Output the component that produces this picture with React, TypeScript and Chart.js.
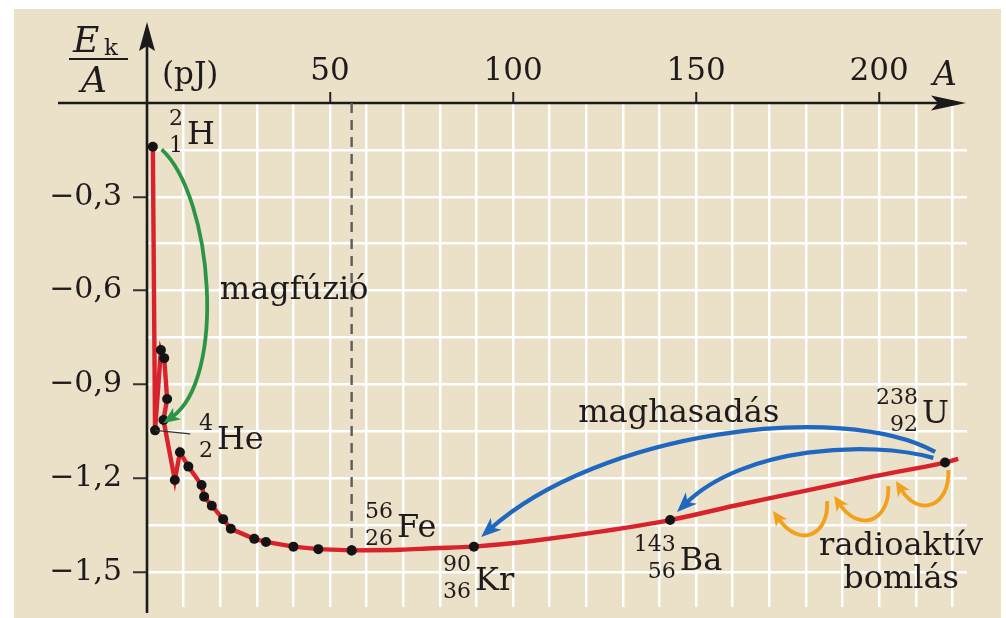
import React, { useEffect, useRef } from 'react';
import { Chart, registerables } from 'chart.js';

Chart.register(...registerables);

// ---- data ----
// light nuclei (plotted in drawing order): mass number A and Ek/A in pJ
const lightA = [1.6, 2.2, 3.8, 4.7, 5.5, 4.5, 7.6, 9.0, 11.3, 14.9, 15.6, 17.7, 20.8, 22.9, 29.3, 32.5, 40.0, 46.8, 55.9];
const lightE = [-0.14, -1.047, -0.79, -0.816, -0.947, -1.014, -1.206, -1.117, -1.163, -1.222, -1.259, -1.288, -1.331, -1.362, -1.394, -1.404, -1.419, -1.427, -1.431];
// heavy branch of the curve (Fe ... U)
const heavyA = [55.9, 69.1, 78.1, 89.3, 105.5, 123.8, 142.9, 160.1, 178.4, 196.6, 218.0, 221.6];
const heavyE = [-1.431, -1.429, -1.424, -1.419, -1.4, -1.371, -1.334, -1.289, -1.244, -1.199, -1.15, -1.138];
const heavyMarked = [true, false, false, true, false, false, true, false, false, false, true, false];

// axes
const xGridValues = [10, 20, 30, 40, 50, 60, 70, 80, 90, 100, 110, 120, 130, 140, 150, 160, 170, 180, 190, 200, 210, 220];
const xLabelValues = [50, 100, 150, 200];
const yGridValues = [-1.5, -1.35, -1.2, -1.05, -0.9, -0.75, -0.6, -0.45, -0.3, -0.15];
const yLabelValues = [-1.5, -1.2, -0.9, -0.6, -0.3];

// nuclide labels: symbol, mass number, atomic number, anchor (A, E)
const nuclideSym = ['H', 'He', 'Fe', 'Kr', 'Ba', 'U'];
const nuclideMass = ['2', '4', '56', '90', '143', '238'];
const nuclideZ = ['1', '2', '26', '36', '56', '92'];
const nuclideA = [10.9, 19.1, 68.3, 89.6, 145.5, 211.7];
const nuclideE = [-0.131, -1.106, -1.388, -1.557, -1.493, -1.023];

// arrows: cubic bezier control points in (A, E)
const fusionArrow = [[4.0, -0.148], [18.0, -0.3], [19.6, -0.9], [4.45, -1.024]];
const fissionArrows = [
  [[215.3, -1.116], [189.3, -0.95], [121.0, -1.078], [91.3, -1.388]],
  [[214.8, -1.135], [197.5, -1.078], [160.7, -1.126], [144.8, -1.308]],
];
const decayArrows = [
  [[218.9, -1.174], [219.4, -1.286], [209.8, -1.308], [204.6, -1.209]],
  [[202.5, -1.225], [203.0, -1.334], [193.4, -1.356], [187.7, -1.257]],
  [[185.8, -1.273], [186.3, -1.382], [177.0, -1.404], [171.0, -1.305]],
];

// text annotations
const noteText = ['magfúzió', 'maghasadás', 'radioaktív', 'bomlás'];
const noteA = [19.9, 117.8, 206.0, 206.0];
const noteE = [-0.627, -1.019, -1.445, -1.551];
const noteAlign = ['left', 'left', 'center', 'center'];

const FONT = '"DejaVu Serif", "Liberation Serif", serif';
const INK = '#1f1b1c';
const RED = '#d8232c';
const GREEN = '#2b9547';
const BLUE = '#1f67bf';
const ORANGE = '#f2a11c';

const near = (arr: number[], v: number) => arr.some((a) => Math.abs(a - v) < 1e-6);

function drawArrow(ctx: CanvasRenderingContext2D, chart: any, pts: number[][], color: string, lw: number, headLen: number, headW: number) {
  const xs = chart.scales.x;
  const ys = chart.scales.y;
  const p = pts.map(([a, e]) => [xs.getPixelForValue(a), ys.getPixelForValue(e)]);
  const [p0, p1, p2, p3] = p;
  let dx = p3[0] - p2[0];
  let dy = p3[1] - p2[1];
  const d = Math.hypot(dx, dy) || 1;
  dx /= d;
  dy /= d;
  const back = headLen * 0.6;
  ctx.save();
  ctx.beginPath();
  ctx.moveTo(p0[0], p0[1]);
  ctx.bezierCurveTo(p1[0], p1[1], p2[0] - dx * back, p2[1] - dy * back, p3[0] - dx * back, p3[1] - dy * back);
  ctx.strokeStyle = color;
  ctx.lineWidth = lw;
  ctx.lineCap = 'butt';
  ctx.stroke();
  const nx = -dy;
  const ny = dx;
  const bx = p3[0] - dx * headLen;
  const by = p3[1] - dy * headLen;
  ctx.beginPath();
  ctx.moveTo(p3[0], p3[1]);
  ctx.lineTo(bx + (nx * headW) / 2, by + (ny * headW) / 2);
  ctx.lineTo(p3[0] - dx * headLen * 0.72, p3[1] - dy * headLen * 0.72);
  ctx.lineTo(bx - (nx * headW) / 2, by - (ny * headW) / 2);
  ctx.closePath();
  ctx.fillStyle = color;
  ctx.fill();
  ctx.restore();
}

const decorPlugin = {
  id: 'decor',
  beforeDraw(chart: any) {
    const ctx = chart.ctx;
    ctx.save();
    ctx.fillStyle = '#ffffff';
    ctx.fillRect(0, 0, chart.width, chart.height);
    ctx.fillStyle = '#ebe0c8';
    ctx.fillRect(14, 9, 987, 609);
    ctx.restore();
  },
  beforeDatasetsDraw(chart: any) {
    const ctx = chart.ctx;
    const { left, top, bottom, right } = chart.chartArea;
    ctx.save();
    ctx.strokeStyle = '#1a1a1a';
    ctx.fillStyle = '#1a1a1a';
    ctx.lineWidth = 2.6;
    // y axis with arrow
    ctx.beginPath();
    ctx.moveTo(left, bottom + 6);
    ctx.lineTo(left, 45);
    ctx.stroke();
    ctx.beginPath();
    ctx.moveTo(left, 22);
    ctx.lineTo(left + 8, 51);
    ctx.lineTo(left, 46);
    ctx.lineTo(left - 8, 51);
    ctx.closePath();
    ctx.fill();
    // x axis with arrow
    ctx.beginPath();
    ctx.moveTo(left - 89, top);
    ctx.lineTo(right - 25, top);
    ctx.stroke();
    ctx.beginPath();
    ctx.moveTo(right - 1, top);
    ctx.lineTo(right - 36, top - 7.5);
    ctx.lineTo(right - 29, top);
    ctx.lineTo(right - 36, top + 7.5);
    ctx.closePath();
    ctx.fill();
    ctx.restore();
  },
  afterDatasetsDraw(chart: any) {
    const ctx = chart.ctx;
    const xs = chart.scales.x;
    const ys = chart.scales.y;
    const { left, top, right } = chart.chartArea;
    ctx.save();
    ctx.fillStyle = INK;
    ctx.textBaseline = 'alphabetic';

    // axis titles
    ctx.textAlign = 'left';
    ctx.font = `italic 36px ${FONT}`;
    ctx.fillText('E', left - 74, top - 51);
    ctx.font = `23px ${FONT}`;
    ctx.fillText('k', left - 43, top - 48);
    ctx.fillRect(left - 78, top - 45, 59, 2);
    ctx.font = `italic 36px ${FONT}`;
    ctx.fillText('A', left - 66, top - 11);
    ctx.font = `31px ${FONT}`;
    ctx.fillText('(pJ)', left + 15, top - 19);
    ctx.font = `italic 33px ${FONT}`;
    ctx.fillText('A', right - 34, top - 18);

    // He leader line
    const heX = xs.getPixelForValue(lightA[1]);
    const heY = ys.getPixelForValue(lightE[1]);
    ctx.strokeStyle = '#333';
    ctx.lineWidth = 1.2;
    ctx.beginPath();
    ctx.moveTo(heX, heY);
    ctx.lineTo(xs.getPixelForValue(11.8), ys.getPixelForValue(-1.058));
    ctx.stroke();

    // arrows
    drawArrow(ctx, chart, fusionArrow, GREEN, 3.8, 17, 14);
    fissionArrows.forEach((a) => drawArrow(ctx, chart, a, BLUE, 4.2, 20, 16));
    decayArrows.forEach((a) => drawArrow(ctx, chart, a, ORANGE, 3.8, 15, 14));

    // nuclide labels
    nuclideSym.forEach((sym, i) => {
      const x = xs.getPixelForValue(nuclideA[i]);
      const y = ys.getPixelForValue(nuclideE[i]);
      ctx.textAlign = 'left';
      ctx.font = `32px ${FONT}`;
      ctx.fillText(sym, x, y);
      ctx.textAlign = 'right';
      ctx.font = `22px ${FONT}`;
      ctx.fillText(nuclideMass[i], x - 4, y - 19);
      ctx.fillText(nuclideZ[i], x - 4, y + 8);
    });

    // notes
    noteText.forEach((t, i) => {
      ctx.textAlign = noteAlign[i] as CanvasTextAlign;
      ctx.font = `32px ${FONT}`;
      ctx.fillText(t, xs.getPixelForValue(noteA[i]), ys.getPixelForValue(noteE[i]));
    });
    ctx.restore();
  },
};

export default function App() {
  const ref = useRef<HTMLCanvasElement>(null);
  useEffect(() => {
    if (!ref.current) return;
    const feA = lightA[lightA.length - 1];
    const feE = lightE[lightE.length - 1];
    const chart = new Chart(ref.current, {
      type: 'line',
      data: {
        datasets: [
          {
            data: lightA.map((a, i) => ({ x: a, y: lightE[i] })),
            borderColor: RED,
            borderWidth: 4.4,
            tension: 0,
            pointRadius: 5,
            pointBackgroundColor: '#141414',
            pointBorderWidth: 0,
            fill: false,
          },
          {
            data: heavyA.map((a, i) => ({ x: a, y: heavyE[i] })),
            borderColor: RED,
            borderWidth: 4.4,
            tension: 0.35,
            pointRadius: heavyMarked.map((m) => (m ? 5 : 0)),
            pointBackgroundColor: '#141414',
            pointBorderWidth: 0,
            fill: false,
          },
          {
            data: [{ x: feA, y: 0 }, { x: feA, y: feE }],
            borderColor: '#5c5c5c',
            borderWidth: 2.4,
            borderDash: [10, 7],
            pointRadius: 0,
            fill: false,
          },
        ],
      },
      options: {
        animation: false,
        responsive: false,
        devicePixelRatio: 1,
        events: [],
        layout: { padding: { left: 0, top: 0, right: 39, bottom: 11 } },
        plugins: { legend: { display: false }, tooltip: { enabled: false } },
        scales: {
          x: {
            type: 'linear',
            position: 'top',
            min: 0,
            max: 224,
            afterBuildTicks: (s: any) => {
              s.ticks = xGridValues.map((v) => ({ value: v }));
            },
            afterFit: (s: any) => {
              s.height = 103;
              s.paddingLeft = 0;
              s.paddingRight = 0;
            },
            border: { display: false },
            grid: {
              color: '#ffffff',
              lineWidth: 2.5,
              tickLength: 11,
              tickWidth: 2,
              tickColor: (c: any) => (c.tick && near(xLabelValues, c.tick.value) ? '#222' : 'rgba(0,0,0,0)'),
            },
            ticks: {
              autoSkip: false,
              maxRotation: 0,
              padding: 1,
              color: INK,
              font: { family: FONT, size: 31, lineHeight: 1.2 },
              callback: (v: any) => (near(xLabelValues, Number(v)) ? String(v) : ''),
            },
          },
          y: {
            type: 'linear',
            position: 'left',
            min: -1.612,
            max: 0,
            afterBuildTicks: (s: any) => {
              s.ticks = yGridValues.map((v) => ({ value: v }));
            },
            afterFit: (s: any) => {
              s.width = 147;
              s.paddingTop = 0;
              s.paddingBottom = 0;
            },
            border: { display: false },
            grid: {
              color: '#ffffff',
              lineWidth: 2.5,
              tickLength: 14,
              tickWidth: 2,
              tickColor: (c: any) => (c.tick && near(yLabelValues, c.tick.value) ? '#333' : 'rgba(0,0,0,0)'),
            },
            ticks: {
              autoSkip: false,
              padding: 11,
              color: INK,
              font: { family: FONT, size: 30 },
              callback: (v: any) =>
                near(yLabelValues, Number(v)) ? '\u2212' + Math.abs(Number(v)).toFixed(1).replace('.', ',') : '',
            },
          },
        },
      },
      plugins: [decorPlugin],
    } as any);
    return () => chart.destroy();
  }, []);
  return (
    <div style={{ position: 'fixed', left: 0, top: 0, width: 1006, height: 618, background: '#fff' }}>
      <canvas ref={ref} width={1006} height={618} style={{ display: 'block', width: 1006, height: 618 }} />
    </div>
  );
}
